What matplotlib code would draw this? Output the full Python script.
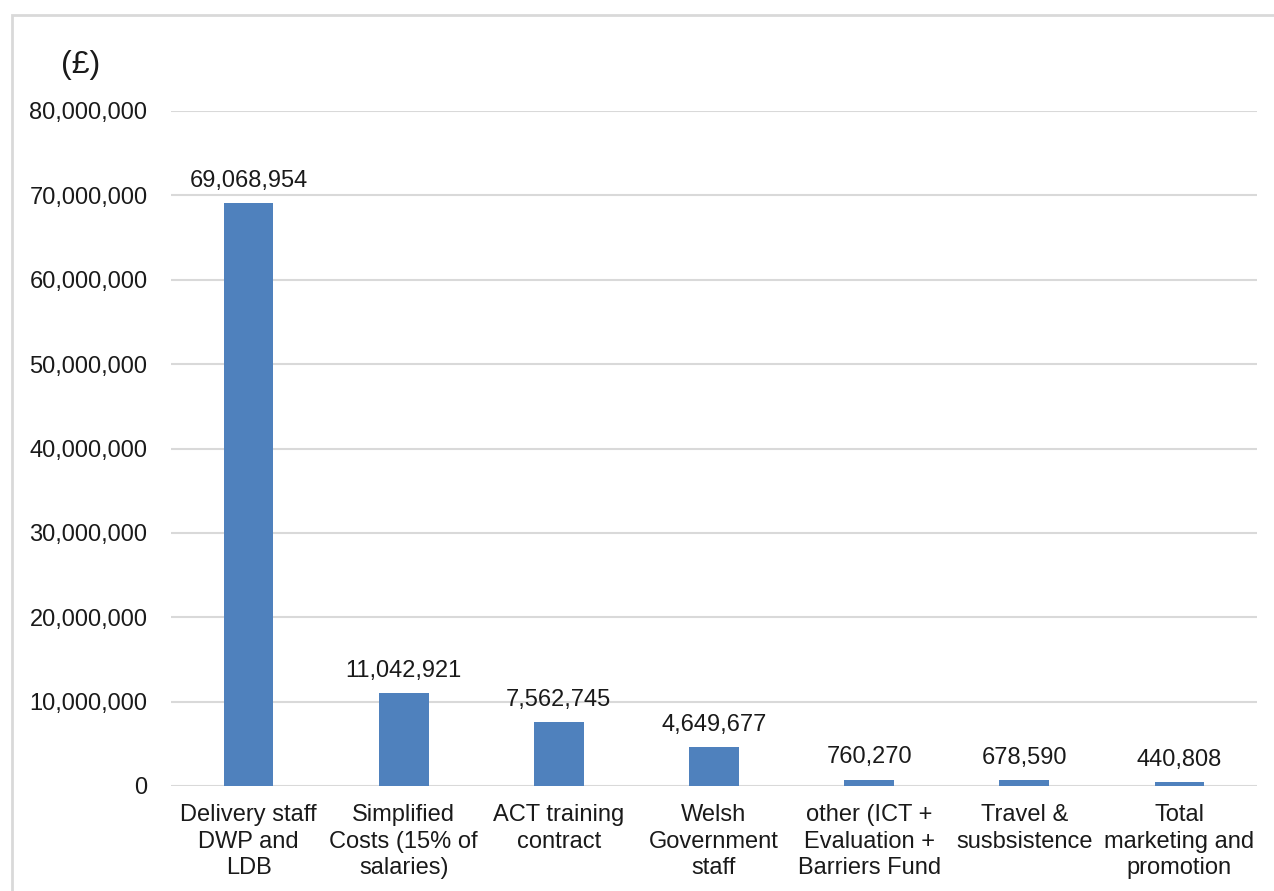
import matplotlib.pyplot as plt
from matplotlib.patches import Rectangle
from matplotlib.ticker import FuncFormatter

plt.rcParams['font.family'] = ['Liberation Sans', 'DejaVu Sans']

categories = [
    "Delivery staff\nDWP and\nLDB",
    "Simplified\nCosts (15% of\nsalaries)",
    "ACT training\ncontract",
    "Welsh\nGovernment\nstaff",
    "other (ICT +\nEvaluation +\nBarriers Fund",
    "Travel &\nsusbsistence",
    "Total\nmarketing and\npromotion",
]
costs = [69068954, 11042921, 7562745, 4649677, 760270, 678590, 440808]
y_ticks = list(range(0, 80000001, 10000000))

bar_color = "#4f81bd"
grid_color = "#d9d9d9"
text_color = "#1a1a1a"
fs = 17

fig = plt.figure(figsize=(12.74, 8.91), dpi=100)
ax = fig.add_axes([171 / 1274, 1 - 786 / 891, (1257 - 171) / 1274, (786 - 111) / 891])

x = range(len(categories))
ax.bar(x, costs, width=0.32, color=bar_color, zorder=3)

for xi, v in zip(x, costs):
    ax.annotate(f"{v:,}", (xi, v), xytext=(0, 8), textcoords="offset points",
                ha="center", va="bottom", fontsize=fs, color=text_color)

ax.set_xlim(-0.5, len(categories) - 0.5)
ax.set_ylim(0, 80000000)
ax.set_yticks(y_ticks)
ax.yaxis.set_major_formatter(FuncFormatter(lambda v, _: f"{int(v):,}"))
ax.set_xticks(list(x))
ax.set_xticklabels(categories, fontsize=fs, color=text_color, linespacing=1.27)
ax.tick_params(axis="both", length=0, labelsize=fs, colors=text_color)
ax.tick_params(axis="y", pad=17)
ax.tick_params(axis="x", pad=13)

ax.grid(axis="y", color=grid_color, linewidth=1.5, zorder=0)
ax.set_axisbelow(True)
for s in ax.spines.values():
    s.set_visible(False)

# currency unit above the value axis
fig.text(81 / 1274, 1 - 65 / 891, "(£)", fontsize=23, ha="center", va="center", color=text_color)

# light frame around the chart area
fig.patches.append(Rectangle((12 / 1274, -0.05), 1.1, 1 - 15 / 891 + 0.05,
                             transform=fig.transFigure, fill=False,
                             edgecolor="#d9d9d9", linewidth=2))

fig.savefig("out.png", dpi=100)
